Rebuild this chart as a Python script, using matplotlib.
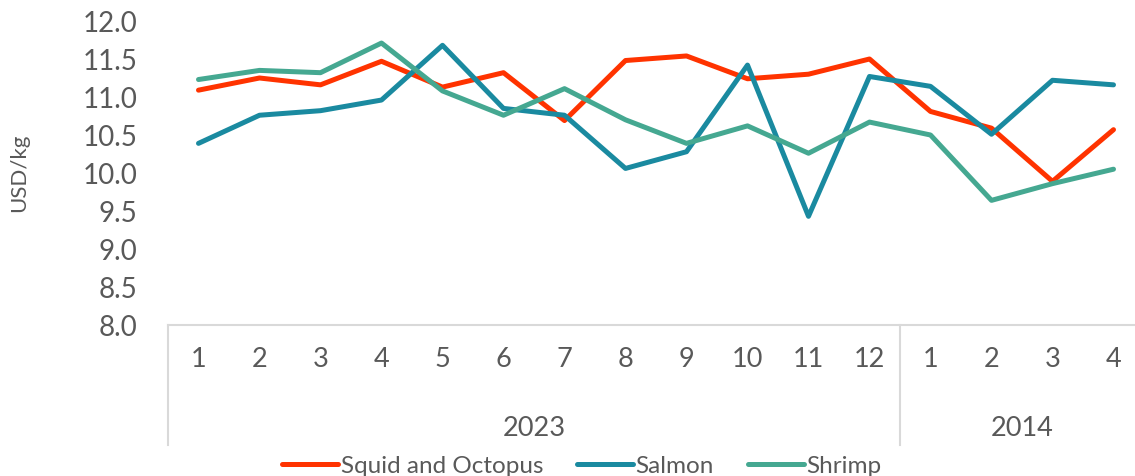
# Monthly prices of squid/octopus, salmon and shrimp (USD/kg)
import matplotlib
matplotlib.use("Agg")
import matplotlib.pyplot as plt
import matplotlib.transforms as mtransforms

months = ["1", "2", "3", "4", "5", "6", "7", "8", "9", "10", "11", "12", "1", "2", "3", "4"]
years = ["2023", "2014"]
year_lengths = [12, 4]

squid = [11.09, 11.25, 11.16, 11.47, 11.13, 11.32, 10.69, 11.48, 11.54, 11.24,
         11.30, 11.50, 10.81, 10.59, 9.89, 10.57]
salmon = [10.39, 10.76, 10.82, 10.96, 11.68, 10.85, 10.76, 10.06, 10.28, 11.42,
          9.43, 11.27, 11.14, 10.51, 11.22, 11.16]
shrimp = [11.23, 11.35, 11.32, 11.71, 11.08, 10.76, 11.11, 10.70, 10.39, 10.62,
          10.26, 10.67, 10.50, 9.64, 9.86, 10.05]

series_names = ["Squid and Octopus", "Salmon", "Shrimp"]
series_colors = ["#FF3300", "#1A8AA0", "#45A891"]

plt.rcParams['font.family'] = ['Lato', 'DejaVu Sans']
text_color = "#595959"
grid_color = "#D9D9D9"


def main():
    fig = plt.figure(figsize=(11.35, 4.76), dpi=100)
    ax = fig.add_axes([168 / 1135, 1 - 325 / 476, 976 / 1135, 304 / 476])

    x = list(range(len(months)))
    for values, name, color in zip([squid, salmon, shrimp], series_names, series_colors):
        ax.plot(x, values, color=color, lw=3.6, label=name,
                solid_capstyle='round', solid_joinstyle='round')

    ax.set_xlim(-0.5, len(months) - 0.5)
    ax.set_ylim(8.0, 12.0)
    ax.set_yticks([8.0 + 0.5 * i for i in range(9)])
    ax.set_yticklabels(["%.1f" % (8.0 + 0.5 * i) for i in range(9)])
    ax.set_xticks(x)
    ax.set_xticklabels(months)

    ax.tick_params(axis='y', length=0, pad=22, labelsize=20, labelcolor=text_color)
    ax.tick_params(axis='x', length=0, pad=16, labelsize=19.5, labelcolor=text_color)

    for side in ['top', 'right', 'left']:
        ax.spines[side].set_visible(False)
    ax.spines['bottom'].set_color(grid_color)
    ax.spines['bottom'].set_linewidth(1.5)

    ax.set_ylabel("USD/kg", fontsize=16, color=text_color)
    ax.yaxis.set_label_coords(-0.142, 0.5)

    # second level of the category axis (years)
    trans = mtransforms.blended_transform_factory(ax.transData, ax.transAxes)
    start = -0.5
    ax.plot([start, start], [0, -0.395], transform=trans, color=grid_color,
            lw=1.5, clip_on=False)
    for year, n in zip(years, year_lengths):
        end = start + n
        ax.text((start + end) / 2, -0.339, year, transform=trans, ha='center',
                va='center', fontsize=19.5, color=text_color)
        if end < len(months) - 0.5:
            ax.plot([end, end], [0, -0.395], transform=trans, color=grid_color,
                    lw=1.5, clip_on=False)
        start = end

    leg = fig.legend(loc='center', bbox_to_anchor=(582 / 1135, 1 - 466 / 476),
                     ncol=3, frameon=False, fontsize=17.5, handlelength=2.3,
                     handletextpad=0.1, columnspacing=1.4)
    for t in leg.get_texts():
        t.set_color(text_color)

    fig.savefig("out.png", dpi=100)


main()
